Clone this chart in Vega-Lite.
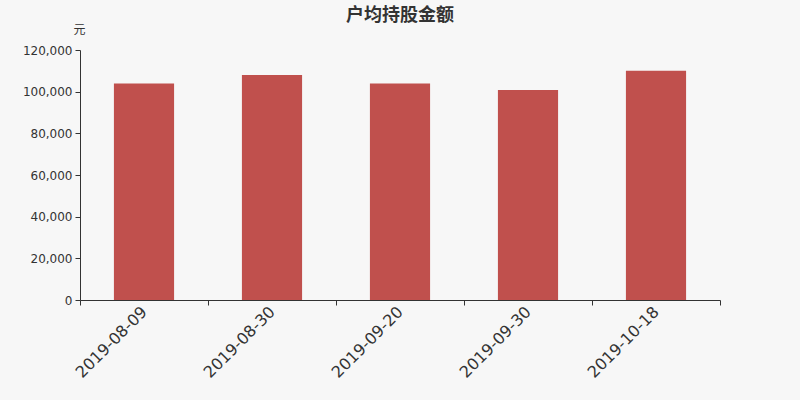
{
  "$schema": "https://vega.github.io/schema/vega-lite/v6.json",
  "width": 640,
  "height": 250,
  "autosize": {"type": "none"},
  "padding": {"left": 80, "top": 50, "right": 80, "bottom": 100},
  "background": "#f7f7f7",
  "data": {
    "values": [
      {"date": "2019-08-09", "amount": 103900},
      {"date": "2019-08-30", "amount": 108000},
      {"date": "2019-09-20", "amount": 103900},
      {"date": "2019-09-30", "amount": 100800},
      {"date": "2019-10-18", "amount": 110000}
    ]
  },
  "title": {
    "text": "户均持股金额",
    "font": "Noto Sans CJK SC",
    "fontSize": 18,
    "fontWeight": "bold",
    "color": "#333333",
    "anchor": "middle",
    "offset": -2
  },
  "mark": {"type": "bar", "color": "#c0504d", "width": {"band": 0.47}},
  "encoding": {
    "x": {
      "field": "date",
      "type": "nominal",
      "sort": null,
      "scale": {"paddingInner": 0, "paddingOuter": 0},
      "axis": {
        "title": null,
        "labelAngle": -45,
        "labelAlign": "right",
        "labelBaseline": "middle",
        "labelFont": "DejaVu Sans",
        "labelFontSize": 16,
        "labelColor": "#333333",
        "labelPadding": 4,
        "tickBand": "extent",
        "tickSize": 5,
        "tickColor": "#333333",
        "domainColor": "#333333"
      }
    },
    "y": {
      "field": "amount",
      "type": "quantitative",
      "scale": {"domain": [0, 120000]},
      "axis": {
        "title": "元",
        "titleAngle": 0,
        "titleX": -1,
        "titleY": -21,
        "titleAlign": "center",
        "titleBaseline": "middle",
        "titleFont": "Noto Sans CJK SC",
        "titleFontSize": 12,
        "titleFontWeight": "normal",
        "titleColor": "#333333",
        "values": [0, 20000, 40000, 60000, 80000, 100000, 120000],
        "format": ",d",
        "grid": false,
        "labelFont": "DejaVu Sans",
        "labelFontSize": 12,
        "labelColor": "#333333",
        "labelPadding": 3,
        "tickSize": 5,
        "tickColor": "#333333",
        "domainColor": "#333333"
      }
    }
  },
  "config": {"view": {"stroke": null}}
}
